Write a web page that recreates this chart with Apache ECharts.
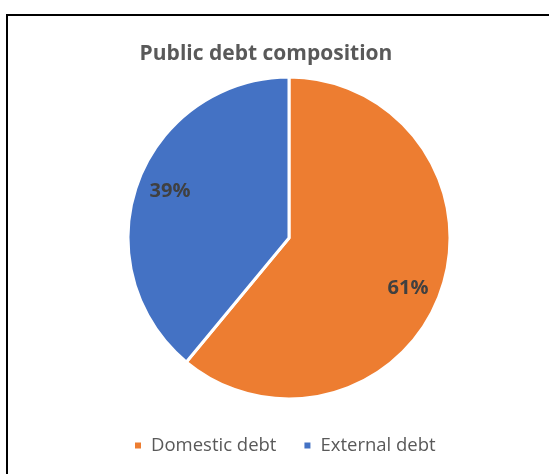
<!DOCTYPE html>
<html>
<head>
<meta charset="utf-8">
<script src="https://cdn.jsdelivr.net/npm/echarts@6/dist/echarts.min.js"></script>
<style>
  html, body { margin: 0; padding: 0; background: #fff; }
  #frame { position: absolute; left: 6px; top: 14px; width: 560px; height: 470px;
           border-top: 2px solid #000; border-left: 2px solid #000; }
  #chart { position: absolute; left: 0; top: 0; width: 549px; height: 474px; }
</style>
</head>
<body>
<div id="frame"></div>
<div id="chart"></div>
<script>
const titleText = 'Public debt composition';
const categories = ['Domestic debt', 'External debt'];
const shares = [61, 39];
const colors = ['#ED7D31', '#4472C4'];
// small nudges for the percentage labels
const labelNudges = [[-5, 6], [5, -2]];

const pieData = categories.map((name, i) => ({
  name: name,
  value: shares[i],
  itemStyle: { color: colors[i] }
}));

const center = [289, 238];
const outer = 161;

const chart = echarts.init(document.getElementById('chart'), null, { renderer: 'canvas' });
chart.setOption({
  animation: false,
  title: {
    text: titleText,
    left: 261, top: 39,
    textAlign: 'center',
    textStyle: { fontFamily: 'Open Sans', fontWeight: 'bold', fontSize: 21, color: '#595959' }
  },
  legend: {
    data: categories,
    left: 128, top: 431,
    icon: 'rect', itemWidth: 8, itemHeight: 8, itemGap: 26,
    textStyle: { fontFamily: 'Open Sans', fontSize: 18.5, color: '#595959', padding: [0, 0, 0, 4] }
  },
  series: [
    {
      type: 'pie',
      center: center,
      radius: [0, outer],
      startAngle: 90,
      clockwise: true,
      data: pieData,
      label: { show: false },
      labelLine: { show: false },
      itemStyle: { borderColor: '#fff', borderWidth: 3 },
      emphasis: { disabled: true }
    },
    {
      // transparent ring carrying the percentage labels at 0.8 of the radius
      type: 'pie',
      center: center,
      radius: [outer * 0.6, outer],
      startAngle: 90,
      clockwise: true,
      silent: true,
      legendHoverLink: false,
      data: categories.map((name, i) => ({
        name: name, value: shares[i],
        label: { offset: labelNudges[i] }
      })),
      itemStyle: { color: 'rgba(0,0,0,0)' },
      label: {
        show: true, position: 'inside', formatter: '{c}%',
        fontFamily: 'Open Sans', fontWeight: 'bold', fontSize: 20, color: '#404040'
      },
      labelLine: { show: false },
      emphasis: { disabled: true }
    }
  ]
});
</script>
</body>
</html>
